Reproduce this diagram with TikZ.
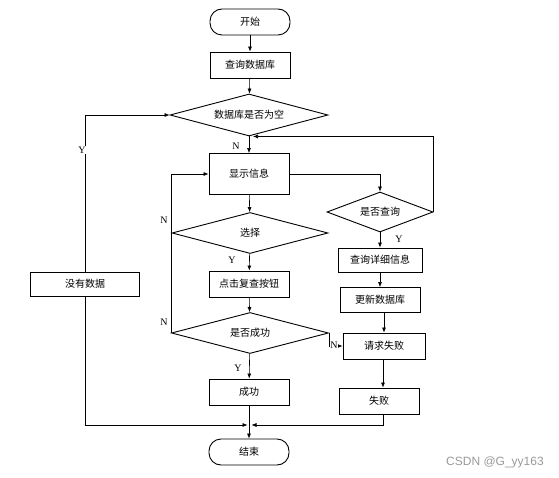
\documentclass[tikz,border=0pt]{standalone}
\usepackage{fontspec}
\setmainfont{Liberation Serif}
\newfontfamily\cjk{Noto Sans CJK SC}
\newfontfamily\wmfont{Liberation Sans}
\usetikzlibrary{shapes.geometric,arrows.meta}
\tikzset{
  procbox/.style={draw, line width=0.9pt, minimum width=80, minimum height=26, inner sep=1pt, font=\cjk\fontsize{10}{12}\selectfont},
  terminal/.style={procbox, rounded corners=12},
  decision/.style={draw, diamond, line width=0.9pt, inner sep=0pt, aspect=3.8, font=\cjk\fontsize{10}{12}\selectfont},
  flow/.style={line width=0.6pt, -{Latex[length=5pt,width=4pt]}},
  lbl/.style={font=\fontsize{10}{12}\selectfont, inner sep=0.5pt}
}
\begin{document}
\begin{tikzpicture}[x=1pt,y=-1pt]
    \useasboundingbox (0,0) rectangle (559,478);

    % Main column
    \node[terminal] (start) at (250,22) {开始};
    \node[procbox] (query) at (250,65) {查询数据库};
    \node[decision, minimum width=158, minimum height=42] (empty) at (249,115) {数据库是否为空};
    \node[procbox, minimum height=41] (show) at (249,174) {显示信息};
    \node[decision, minimum width=156, minimum height=41] (choose) at (250,233) {选择};
    \node[procbox] (recheck) at (249,284) {点击复查按钮};
    \node[decision, minimum width=157, minimum height=41] (success) at (250,333) {是否成功};
    \node[procbox] (ok) at (249,392) {成功};
    \node[terminal] (finish) at (249,452) {结束};

    % Right column
    \node[decision, minimum width=106, minimum height=40, aspect=2.6] (ask) at (380,212) {是否查询};
    \node[procbox, minimum width=84, minimum height=24] (detail) at (380,260) {查询详细信息};
    \node[procbox, minimum height=25] (update) at (380,300) {更新数据库};
    \node[procbox, minimum width=82] (reqfail) at (384,346) {请求失败};
    \node[procbox] (fail) at (379,401) {失败};

    % Left column
    \node[procbox, minimum width=109, minimum height=24] (nodata) at (85,284) {没有数据};

    % Merge point above the end
    \coordinate (merge) at (249,425);

    % Straight flow
    \draw[flow] (start) -- (query);
    \draw[flow] (query) -- (empty);
    \draw[flow] (empty) -- (show);
    \draw[flow] (show) -- (choose);
    \draw[flow] (choose) -- (recheck);
    \draw[flow] (recheck) -- (success);
    \draw[flow] (success) -- (ok);
    \draw[flow] (ok) -- (finish);
    \draw[flow] (ask) -- (detail);
    \draw[flow] (detail) -- (update);
    \draw[flow] (update.south -| reqfail.north) -- (reqfail.north);
    \draw[flow] (reqfail.south -| 383,0) -- (fail.north -| 383,0);

    % Branches and loops
    \draw[flow] (nodata.north) |- (empty.west);
    \draw[flow] (nodata.south) |- ([xshift=-1.5]merge);
    \draw[flow] (fail.south -| 383,0) |- ([xshift=2.5]merge);
    \draw[flow] (success.west) |- (show.west);
    \draw[flow] (show.east) -| (ask.north);
    \draw[flow] (ask.east) |- ([xshift=4]empty.south);
    \draw[flow] (success.east) |- (reqfail.west);

    % Labels
    \node[lbl] (lN1) at (236,146) {N};
    \node[lbl, fill=white] (lY1) at (82,150) {Y};
    \node[lbl] (lN2) at (164,220) {N};
    \node[lbl] (lN3) at (164,322) {N};
    \node[lbl] (lY2) at (232,260) {Y};
    \node[lbl] (lY3) at (238,368) {Y};
    \node[lbl] (lY4) at (399,239) {Y};
    \node[lbl, fill=white] (lN4) at (334,345) {N};

    % Watermark
    \node[font=\wmfont\fontsize{12}{14}\selectfont, text=black!40] (mark) at (495,462) {CSDN @G\_yy163};
\end{tikzpicture}
\end{document}
